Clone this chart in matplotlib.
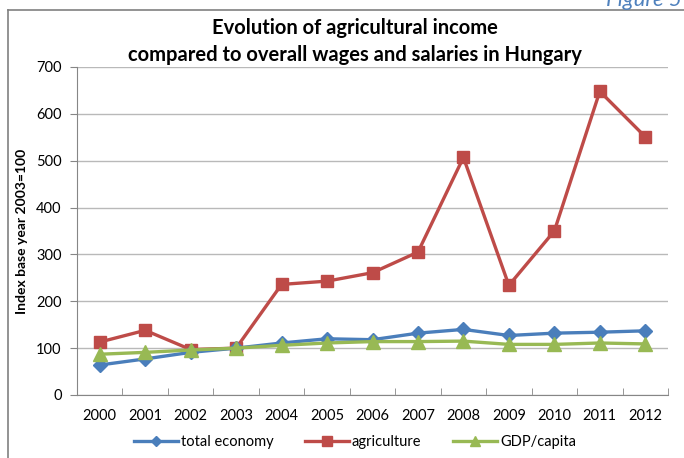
import matplotlib.pyplot as plt
from matplotlib.lines import Line2D

years = ["2000", "2001", "2002", "2003", "2004", "2005", "2006",
         "2007", "2008", "2009", "2010", "2011", "2012"]
total_economy = [64, 77, 91, 100, 111, 120, 118, 132, 140, 127, 132, 134, 137]
agriculture = [113, 138, 97, 100, 236, 243, 261, 305, 507, 234, 350, 648, 551]
gdp_capita = [87, 91, 96, 100, 106, 111, 114, 114, 115, 108, 108, 111, 109]
y_ticks = [0, 100, 200, 300, 400, 500, 600, 700]

plt.rcParams['font.family'] = ['Lato', 'DejaVu Sans']

W, H = 684, 458
fig = plt.figure(figsize=(W / 100, H / 100), dpi=100)
ax = fig.add_axes([77 / W, 1 - 395 / H, (668 - 77) / W, (395 - 67) / H])

x = list(range(len(years)))
blue, red, green = "#4a7ebb", "#be4b48", "#98b954"
ax.plot(x, total_economy, color=blue, lw=2.4, marker="D", ms=7.5, zorder=4)
ax.plot(x, agriculture, color=red, lw=2.4, marker="s", ms=9, zorder=3)
ax.plot(x, gdp_capita, color=green, lw=2.4, marker="^", ms=10, zorder=5)

ax.set_xlim(-0.5, len(years) - 0.5)
ax.set_ylim(0, 700)
ax.set_yticks(y_ticks)
ax.set_yticklabels([str(v) for v in y_ticks], fontsize=10.5)
ax.set_xticks(x)
ax.set_xticklabels(years, fontsize=10.5)
ax.tick_params(axis="x", length=0, pad=10)
ax.set_xticks([i - 0.5 for i in range(len(years) + 1)], minor=True)
ax.tick_params(axis="x", which="minor", length=5, color="#868686", direction="in")
ax.tick_params(axis="y", length=5, color="#868686", direction="out", pad=6)
ax.grid(axis="y", color="#b9b9b9", lw=1)
ax.set_axisbelow(True)
for s in ["top", "right"]:
    ax.spines[s].set_visible(False)
for s in ["left", "bottom"]:
    ax.spines[s].set_color("#868686")
ax.set_ylabel("Index base year 2003=100", fontsize=10, fontweight="bold", labelpad=6)

fig.text(355 / W, 1 - 28 / H, "Evolution of agricultural income", ha="center",
         va="center", fontsize=14.5, fontweight="bold")
fig.text(355 / W, 1 - 55 / H, "compared to overall wages and salaries in Hungary",
         ha="center", va="center", fontsize=14.5, fontweight="bold")
fig.text(1 - 2 / W, 1 - 6 / H, "Figure 5", ha="right", va="baseline",
         fontsize=16, style="italic", color="#4f81bd")

# page frame lines
fig.add_artist(Line2D([8 / W, 1], [1 - 10 / H, 1 - 10 / H], color="#808080", lw=1.2))
fig.add_artist(Line2D([8 / W, 8 / W], [0, 1 - 10 / H], color="#808080", lw=1.2))

handles = [
    Line2D([], [], color=blue, lw=2.4, marker="D", ms=5),
    Line2D([], [], color=red, lw=2.4, marker="s", ms=7),
    Line2D([], [], color=green, lw=2.4, marker="^", ms=7),
]
fig.legend(handles, ["total economy", "agriculture", "GDP/capita"], loc="center",
           bbox_to_anchor=(355 / W, 1 - 442 / H), ncol=3, frameon=False,
           fontsize=10.5, handlelength=3.0, handletextpad=0.2, columnspacing=2.2)

fig.savefig("out.png", dpi=100)
